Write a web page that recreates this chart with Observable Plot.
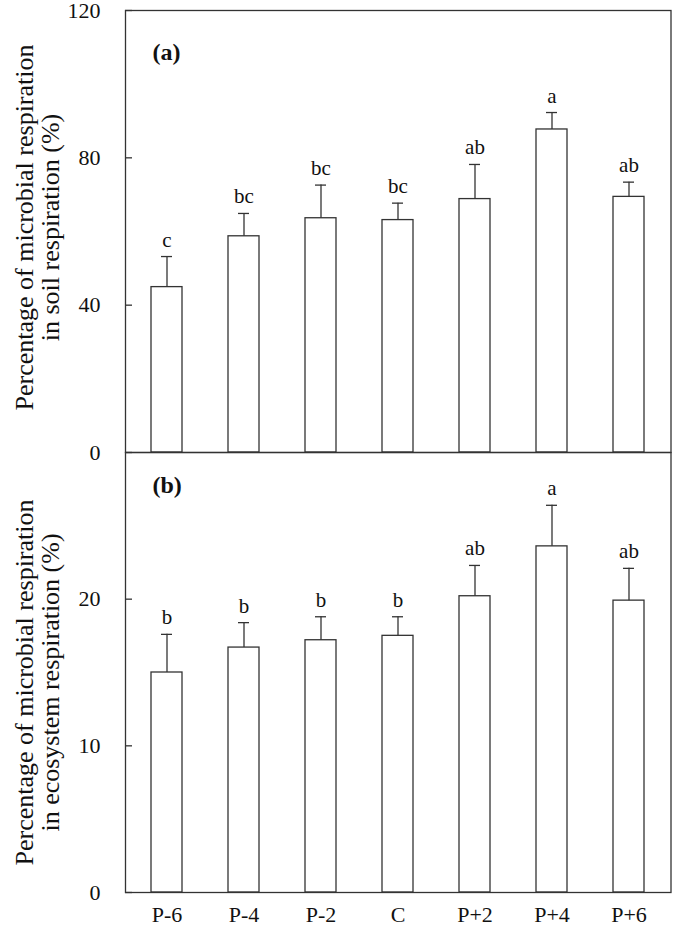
<!DOCTYPE html>
<html><head><meta charset="utf-8">
<script src="https://cdn.jsdelivr.net/npm/d3@7"></script>
<script src="https://cdn.jsdelivr.net/npm/@observablehq/plot@0.6"></script>
<style>
body{margin:0;background:#fff;}
#wrap{position:relative;width:675px;height:927px;}
#wrap svg{position:absolute;left:0;}
</style></head><body><div id="wrap"></div>
<script>
const categories = ["P-6","P-4","P-2","C","P+2","P+4","P+6"];
const soilMean = [44.9, 58.7, 63.6, 63.1, 68.8, 87.7, 69.4];
const soilUpper = [53.2, 64.9, 72.6, 67.7, 78.2, 92.3, 73.4];
const soilLetters = ["c","bc","bc","bc","ab","a","ab"];
const ecoMean = [15.0, 16.7, 17.2, 17.5, 20.2, 23.6, 19.9];
const ecoUpper = [17.6, 18.4, 18.8, 18.8, 22.3, 26.4, 22.1];
const ecoLetters = ["b","b","b","b","ab","a","ab"];
const soilTicks = [0, 40, 80, 120];
const ecoTicks = [0, 10, 20];

const FONT = '"Liberation Serif", "Times New Roman", serif';
const INK = "#333";

function panel({mean, upper, letters, domain, ticks, tag, title, height, marginTop, marginBottom, showX, tagDy, titleDy}) {
  const data = categories.map((c, i) => ({c, m: mean[i], u: upper[i], l: letters[i]}));
  const marks = [
    Plot.barY(data, {x: "c", y: "m", fill: "white", stroke: INK, strokeWidth: 1.3}),
    Plot.ruleX(data, {x: "c", y1: "m", y2: "u", stroke: INK, strokeWidth: 1.3}),
    Plot.tickY(data, {x: "c", y: "u", insetLeft: 10, insetRight: 10, stroke: INK, strokeWidth: 1.3}),
    Plot.text(data, {x: "c", y: "u", text: "l", dy: -10, lineAnchor: "bottom", fontSize: 21, fill: "#111"}),
    Plot.axisY({ticks, tickSize: 7, dx: 7, tickFormat: () => "", stroke: INK, strokeWidth: 1.3}),
    Plot.axisY({ticks, tickSize: 0, tickPadding: 25, fontSize: 22, fill: "#111", label: null}),
    Plot.frame({stroke: INK, strokeWidth: 1.3}),
    Plot.text([tag], {frameAnchor: "top-left", dx: 27, dy: tagDy, textAnchor: "start", lineAnchor: "middle", fontWeight: "bold", fontSize: 24, fill: "#111"}),
    Plot.text([title], {frameAnchor: "left", rotate: -90, dx: -88, dy: titleDy, textAnchor: "middle", lineAnchor: "middle", fontSize: 26, lineHeight: 1, fill: "#111"})
  ];
  if (showX) marks.push(Plot.axisX({tickSize: 0, tickPadding: 14, fontSize: 22, fill: "#111", label: null}));
  return Plot.plot({
    width: 675, height, marginLeft: 125, marginRight: 4.5, marginTop, marginBottom,
    style: {fontFamily: FONT, color: "#111", background: "transparent", overflow: "visible"},
    x: {domain: categories, paddingInner: 0.6, paddingOuter: 0.3, axis: null},
    y: {domain, axis: null},
    marks
  });
}

const wrap = document.getElementById("wrap");
const a = panel({mean: soilMean, upper: soilUpper, letters: soilLetters, domain: [0, 120], ticks: soilTicks,
  tag: "(a)", title: "Percentage of microbial respiration\nin soil respiration (%)",
  height: 462, marginTop: 10, marginBottom: 10, showX: false, tagDy: 42, titleDy: -4});
a.style.top = "0px";
const b = panel({mean: ecoMean, upper: ecoUpper, letters: ecoLetters, domain: [0, 30], ticks: ecoTicks,
  tag: "(b)", title: "Percentage of microbial respiration\nin ecosystem respiration (%)",
  height: 485, marginTop: 10, marginBottom: 35, showX: true, tagDy: 33, titleDy: 10});
b.style.top = "442px";
wrap.appendChild(a);
wrap.appendChild(b);
</script>
</body></html>
